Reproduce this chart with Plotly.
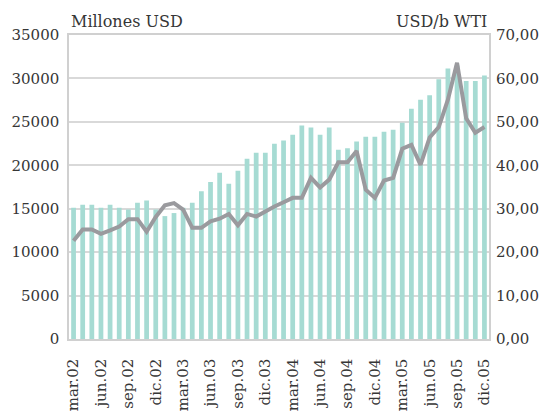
import plotly.graph_objects as go

months = ["ene", "feb", "mar", "abr", "may", "jun", "jul", "ago", "sep", "oct", "nov", "dic"]
categories = []
for yr in ["02", "03", "04", "05"]:
    for m in months:
        categories.append(f"{m}.{yr}")
categories = categories[2:]  # mar.02 .. dic.05

exports_musd = [
    15100, 15450, 15450, 15100, 15450, 15100, 14900, 15700, 15950, 14900,
    14150, 14500, 15100, 15700, 17000, 18080, 19140, 17860, 19370, 20760,
    21450, 21450, 22490, 22840, 23530, 24580, 24340, 23530, 24340, 21800,
    21950, 22750, 23280, 23280, 23860, 24090, 24900, 26510, 27540, 28050,
    29900, 31150, 31500, 29710, 29710, 30350,
]
wti_usd = [
    22.6, 25.2, 25.2, 24.2, 25.0, 25.9, 27.6, 27.6, 24.7, 28.1,
    30.8, 31.3, 29.8, 25.6, 25.6, 27.1, 27.7, 28.8, 26.2, 28.8,
    28.2, 29.4, 30.5, 31.5, 32.5, 32.5, 37.1, 34.9, 36.7, 40.7,
    40.7, 43.3, 34.4, 32.5, 36.5, 37.1, 43.8, 44.7, 40.1, 46.4,
    48.8, 55.1, 63.6, 50.8, 47.5, 48.8,
]
x_ticks = categories[::3]
left_ticks = [0, 5000, 10000, 15000, 20000, 25000, 30000, 35000]
right_ticks = [0, 10, 20, 30, 40, 50, 60, 70]
right_ticktext = ["0,00", "10,00", "20,00", "30,00", "40,00", "50,00", "60,00", "70,00"]

FONT = "DejaVu Serif"
TXT = "#363636"

fig = go.Figure()
fig.add_trace(go.Bar(x=categories, y=exports_musd, marker=dict(color="#a6dbd3", line=dict(width=0)),
                     name="Millones USD"))
fig.add_trace(go.Scatter(x=categories, y=wti_usd, yaxis="y2", mode="lines",
                         line=dict(color="#9a9a9e", width=4), name="USD/b WTI"))

fig.update_layout(
    width=541, height=405,
    margin=dict(l=61, r=60, t=27, b=74),
    paper_bgcolor="white", plot_bgcolor="white",
    showlegend=False,
    bargap=0.48,
    font=dict(family=FONT, size=16, color=TXT),
    xaxis=dict(
        type="category", categoryorder="array", categoryarray=categories,
        range=[-0.5, len(categories) - 0.5], automargin=False,
        tickmode="array", tickvals=x_ticks, ticktext=x_ticks,
        tickangle=-90, ticks="", showgrid=False, ticklabelstandoff=12,
        showline=True, linecolor="#d0d0d0", linewidth=1.5, mirror=True,
        tickfont=dict(family=FONT, size=15, color=TXT),
    ),
    yaxis=dict(
        range=[0, 35000], tickmode="array", tickvals=left_ticks,
        ticktext=[str(v) for v in left_ticks], automargin=False,
        showgrid=True, gridcolor="#d9d9d9", gridwidth=1.5, zeroline=False,
        showline=True, linecolor="#d0d0d0", linewidth=1.5, mirror=True,
        ticks="", ticklabelstandoff=5,
        tickfont=dict(family=FONT, size=15, color=TXT),
    ),
    yaxis2=dict(
        range=[0, 70], overlaying="y", side="right", automargin=False,
        tickmode="array", tickvals=right_ticks, ticktext=right_ticktext,
        showgrid=False, zeroline=False, ticks="", ticklabelstandoff=6,
        tickfont=dict(family=FONT, size=15, color=TXT),
    ),
    annotations=[
        dict(text="Millones USD", xref="paper", yref="paper", x=0, y=1,
             xanchor="left", yanchor="bottom", yshift=2, showarrow=False,
             font=dict(family=FONT, size=16, color=TXT)),
        dict(text="USD/b WTI", xref="paper", yref="paper", x=1, y=1,
             xanchor="right", yanchor="bottom", yshift=2, showarrow=False,
             font=dict(family=FONT, size=16, color=TXT)),
    ],
)

fig.write_html("out.html")
